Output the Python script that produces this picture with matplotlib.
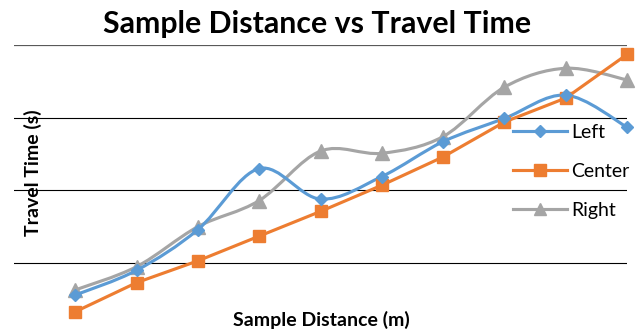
import numpy as np
import matplotlib.pyplot as plt
from matplotlib.path import Path
from matplotlib.patches import PathPatch
from matplotlib.lines import Line2D

plt.rcParams['font.family'] = ['Lato', 'DejaVu Sans']

# sample positions along the line and measured travel times
distance = [1, 2, 3, 4, 5, 6, 7, 8, 9, 10]
left = [5.6, 9.0, 14.6, 23.0, 18.8, 21.9, 26.7, 29.9, 33.1, 28.7]
center = [3.3, 7.3, 10.3, 13.7, 17.1, 20.7, 24.6, 29.4, 32.7, 38.7]
right = [6.3, 9.5, 15.0, 18.6, 25.4, 25.1, 27.4, 34.2, 36.8, 35.2]

BLUE = '#5B9BD5'
ORANGE = '#ED7D31'
GRAY = '#A5A5A5'


def smooth_path(xs, ys):
    # cubic bezier through every point, like a spreadsheet "smoothed line"
    pts = np.column_stack([xs, ys]).astype(float)
    n = len(pts)
    verts = [pts[0]]
    codes = [Path.MOVETO]
    for i in range(n - 1):
        p0 = pts[i - 1] if i > 0 else pts[i]
        p1 = pts[i]
        p2 = pts[i + 1]
        p3 = pts[i + 2] if i + 2 < n else pts[i + 1]
        verts += [p1 + (p2 - p0) / 6, p2 - (p3 - p1) / 6, p2]
        codes += [Path.CURVE4] * 3
    return Path(verts, codes)


fig = plt.figure(figsize=(6.4, 3.34), dpi=100)
ax = fig.add_axes([14 / 640, (334 - 335.7) / 334, 613 / 640, (335.7 - 45) / 334])
ax.set_xlim(0, 10)
ax.set_ylim(0, 40)
ax.axis('off')

for v in [10, 20, 30]:
    ax.axhline(v, color='black', lw=0.8, zorder=1)
ax.axhline(40, color='#595959', lw=1.6, zorder=1)

lw = 2.25
ax.add_patch(PathPatch(smooth_path(distance, left), facecolor='none', edgecolor=BLUE,
                       lw=lw, zorder=3, clip_on=False))
ax.plot(distance, left, 'D', color=BLUE, ms=6, zorder=4, clip_on=False)

ax.plot(distance, center, '-s', color=ORANGE, lw=lw, ms=9, zorder=3, clip_on=False)

ax.add_patch(PathPatch(smooth_path(distance, right), facecolor='none', edgecolor=GRAY,
                       lw=lw, zorder=2, clip_on=False))
ax.plot(distance, right, '^', color=GRAY, ms=10, zorder=2, clip_on=False)

handles = [
    Line2D([], [], color=BLUE, lw=lw, marker='D', ms=6),
    Line2D([], [], color=ORANGE, lw=lw, marker='s', ms=8),
    Line2D([], [], color=GRAY, lw=lw, marker='^', ms=9),
]
fig.legend(handles, ['Left', 'Center', 'Right'], loc='center left',
           bbox_to_anchor=(513 / 640, (334 - 171.7) / 334), frameon=False,
           fontsize=14, handlelength=2.8, handletextpad=0.2, labelspacing=1.13,
           borderpad=0, borderaxespad=0)

fig.text(0.496, (334 - 33) / 334, 'Sample Distance vs Travel Time', ha='center',
         va='baseline', fontsize=21.8, fontweight='bold')
fig.text(33 / 640, (334 - 172.5) / 334, 'Travel Time (s)', rotation=90, ha='center',
         va='center', fontsize=14, fontweight='bold')
fig.text(0.502, (334 - 326) / 334, 'Sample Distance (m)', ha='center', va='baseline',
         fontsize=14, fontweight='bold')

fig.savefig('out.png', dpi=100)
